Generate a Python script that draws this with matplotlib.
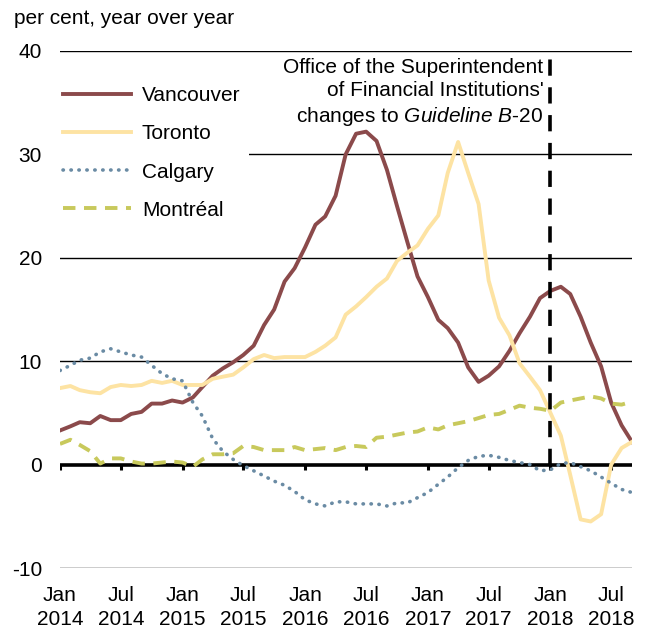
import matplotlib
matplotlib.use("Agg")
import matplotlib.pyplot as plt
import pandas as pd

plt.rcParams['font.family'] = ['Liberation Sans', 'DejaVu Sans']
plt.rcParams['mathtext.fontset'] = 'custom'
plt.rcParams['mathtext.rm'] = 'Liberation Sans'
plt.rcParams['mathtext.it'] = 'Liberation Sans:italic'

dates = pd.date_range("2014-01-01", periods=57, freq="MS")

vancouver = [3.3, 3.7, 4.1, 4.0, 4.7, 4.3, 4.3, 4.9, 5.1, 5.9, 5.9, 6.2, 6.0, 6.5, 7.5, 8.6,
             9.3, 9.9, 10.6, 11.5, 13.5, 15.0, 17.7, 19.0, 21.0, 23.2, 24.0, 26.0, 30.0, 32.0,
             32.2, 31.3, 28.5, 25.0, 21.5, 18.2, 16.2, 14.0, 13.2, 11.8, 9.4, 8.0, 8.6, 9.5,
             11.0, 12.7, 14.3, 16.1, 16.8, 17.2, 16.5, 14.3, 11.8, 9.5, 6.0, 3.8, 2.2]
toronto = [7.4, 7.6, 7.2, 7.0, 6.9, 7.5, 7.7, 7.6, 7.7, 8.1, 7.9, 8.1, 7.7, 7.7, 7.7, 8.3,
           8.5, 8.7, 9.4, 10.2, 10.6, 10.3, 10.4, 10.4, 10.4, 10.9, 11.5, 12.3, 14.5, 15.3,
           16.2, 17.2, 18.0, 19.7, 20.5, 21.2, 22.8, 24.1, 28.2, 31.2, 28.2, 25.2, 17.8, 14.2,
           12.5, 9.8, 8.5, 7.2, 5.0, 2.8, -1.0, -5.3, -5.5, -4.8, 0.0, 1.6, 2.2]
calgary = [9.1, 9.6, 10.1, 10.3, 10.9, 11.2, 10.9, 10.6, 10.4, 9.6, 8.8, 8.3, 8.1, 6.0, 4.7,
           2.5, 1.3, 0.5, -0.1, -0.6, -1.1, -1.6, -2.0, -2.6, -3.4, -3.8, -4.0, -3.6, -3.6,
           -3.8, -3.8, -3.8, -4.0, -3.7, -3.7, -3.2, -2.7, -1.9, -1.2, -0.3, 0.4, 0.8, 0.9,
           0.7, 0.4, 0.2, 0.0, -0.6, -0.5, 0.1, 0.2, -0.2, -0.6, -1.2, -1.8, -2.4, -2.7]
montreal = [2.0, 2.4, 1.9, 1.3, 0.1, 0.6, 0.6, 0.3, 0.1, 0.1, 0.2, 0.3, 0.2, -0.2, 0.5, 1.0,
            1.0, 1.1, 1.8, 1.7, 1.4, 1.4, 1.4, 1.7, 1.4, 1.5, 1.6, 1.4, 1.7, 1.8, 1.7, 2.6,
            2.7, 2.9, 3.1, 3.2, 3.6, 3.4, 3.8, 4.0, 4.2, 4.5, 4.8, 4.9, 5.3, 5.7, 5.5, 5.4,
            5.2, 6.0, 6.2, 6.4, 6.6, 6.4, 5.9, 5.8, 6.1]

y_ticks = [-10, 0, 10, 20, 30, 40]
y_labels = ["-10", "0", "10", "20", "30", "40"]
b20_date = pd.Timestamp("2018-01-01")
note = "Office of the Superintendent\nof Financial Institutions'\nchanges to $\\mathit{Guideline\\ B}$-$\\mathit{20}$"

fs = 15
fig = plt.figure(figsize=(6.45, 6.28), dpi=100)
ax = fig.add_axes([60/645, 1-568/628, 572/645, 517/628])

for y in y_ticks:
    if y != 0:
        ax.axhline(y, color="black", lw=1.0, zorder=1)
ax.axhline(0, color="black", lw=2.6, zorder=2)
tick_dates = dates[::6]
ax.vlines(tick_dates, -0.55, 0, color="black", lw=2.2, zorder=2)

ax.plot(dates, vancouver, color="#8B4A4B", lw=2.8, label="Vancouver", zorder=5)
ax.plot(dates, toronto, color="#FDE3A3", lw=2.8, label="Toronto", zorder=5)
ax.plot(dates, calgary, color="#6A8BA4", lw=2.6, ls=(0, (0.1, 2.1)), dash_capstyle="round",
        label="Calgary", zorder=5)
ax.plot(dates, montreal, color="#C8C95C", lw=2.8, ls=(0, (3.2, 2.2)), label="Montréal", zorder=5)

ax.vlines(b20_date, 0, 40, color="black", lw=2.6, linestyles=(0, (4.5, 3.2)), zorder=6)
ax.annotate(note, xy=(b20_date, 40), xytext=(-5, -5), textcoords="offset points",
            ha="right", va="top", fontsize=fs, linespacing=1.28, zorder=7)

ax.set_xlim(dates[0], dates[-1])
ax.set_ylim(-10, 40)
ax.set_xticks(tick_dates, [f"{d:%b}\n{d:%Y}" for d in tick_dates], fontsize=fs,
              linespacing=1.3)
ax.set_yticks(y_ticks, y_labels, fontsize=fs)
ax.tick_params(axis="x", length=0, pad=13)
ax.tick_params(axis="y", length=0, pad=13)
for s in ax.spines.values():
    s.set_visible(False)

leg = ax.legend(loc="upper left", bbox_to_anchor=(-0.01, 0.948), borderaxespad=0, fontsize=fs,
                handlelength=3.3, handletextpad=0.5, labelspacing=0.92, frameon=True,
                fancybox=False, edgecolor="none", facecolor="white", framealpha=1)
leg.set_zorder(4)

fig.text(14/645, 1-18/628, "per cent, year over year", fontsize=fs, ha="left", va="center")

fig.savefig("out.png", dpi=100)
